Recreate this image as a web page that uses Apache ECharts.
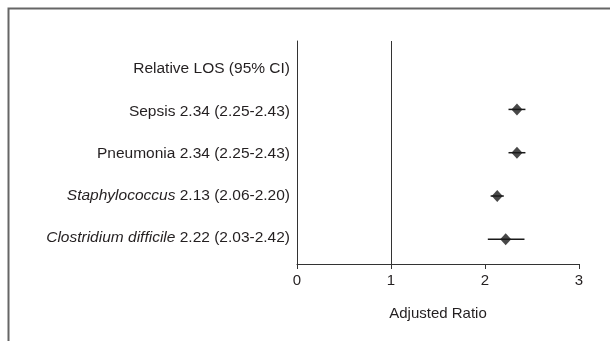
<!DOCTYPE html>
<html>
<head>
<meta charset="utf-8">
<script src="https://cdn.jsdelivr.net/npm/echarts@6/dist/echarts.min.js"></script>
<style>
html,body{margin:0;padding:0;background:#fff;}
#chart{width:610px;height:341px;}
</style>
</head>
<body>
<div id="chart"></div>
<script>
var headerLabel = 'Relative LOS (95% CI)';
var outcomes = ['Sepsis', 'Pneumonia', 'Staphylococcus', 'Clostridium difficile'];
var italicName = [false, false, true, true];
var estimates = [2.34, 2.34, 2.13, 2.22];
var lowerCI = [2.25, 2.25, 2.06, 2.03];
var upperCI = [2.43, 2.43, 2.20, 2.42];
var rowPos = [3, 2, 1, 0];
var xTicks = [0, 1, 2, 3];

function fmt(v){ return v.toFixed(2); }
var labelCats = [headerLabel].concat(outcomes.map(function(n, i){
  return n + ' ' + fmt(estimates[i]) + ' (' + fmt(lowerCI[i]) + '-' + fmt(upperCI[i]) + ')';
}));

var pointData = outcomes.map(function(n, i){ return [estimates[i], rowPos[i]]; });
var barData = outcomes.map(function(n, i){ return [lowerCI[i], upperCI[i], rowPos[i]]; });

var FONT = "'Liberation Sans', Arial, sans-serif";
var TXT = '#231f20';
var LBL = 15.5;

var chart = echarts.init(document.getElementById('chart'));
chart.setOption({
  animation: false,
  backgroundColor: '#fff',
  graphic: [
    { type: 'polyline', shape: { points: [[8.5, 341], [8.5, 8.5], [610, 8.5]] },
      style: { stroke: '#666', lineWidth: 2, fill: null } }
  ],
  grid: [
    { left: 297, right: 31, top: 41, bottom: 77 },
    { left: 297, right: 31, top: 48, bottom: 82 }
  ],
  xAxis: [
    { gridIndex: 0, type: 'value', min: xTicks[0], max: xTicks[xTicks.length-1], interval: 1,
      name: 'Adjusted Ratio', nameLocation: 'middle', nameGap: 42,
      nameTextStyle: { fontFamily: FONT, fontSize: 15, color: TXT },
      axisLine: { show: true, onZero: false, lineStyle: { color: '#333', width: 1 } },
      axisTick: { show: true, length: 5, lineStyle: { color: '#333' } },
      axisLabel: { margin: 9, fontFamily: FONT, fontSize: 15, color: TXT },
      splitLine: { show: false } },
    { gridIndex: 1, type: 'value', min: 0, max: 3, show: false }
  ],
  yAxis: [
    { gridIndex: 0, type: 'value', min: -0.57, max: 4.58,
      axisLine: { show: true, onZero: false, lineStyle: { color: '#333', width: 1 } },
      axisTick: { show: false }, axisLabel: { show: false }, splitLine: { show: false } },
    { gridIndex: 1, type: 'category', inverse: true, data: labelCats,
      axisLine: { show: false }, axisTick: { show: false }, splitLine: { show: false },
      axisLabel: {
        margin: 7, fontFamily: FONT, fontSize: LBL, color: TXT,
        formatter: function(val, idx){
          if (idx === 0) return '{n|' + val + '}';
          var i = idx - 1;
          var rest = ' ' + fmt(estimates[i]) + ' (' + fmt(lowerCI[i]) + '-' + fmt(upperCI[i]) + ')';
          if (italicName[i]) return '{it|' + outcomes[i] + '}{n|' + rest + '}';
          return '{n|' + outcomes[i] + rest + '}';
        },
        rich: {
          n: { fontFamily: FONT, fontSize: LBL, color: TXT },
          it: { fontFamily: FONT, fontSize: LBL, color: TXT, fontStyle: 'italic' }
        }
      } }
  ],
  series: [
    { type: 'custom', xAxisIndex: 0, yAxisIndex: 0, data: barData, silent: true,
      renderItem: function(params, api){
        var a = api.coord([api.value(0), api.value(2)]);
        var b = api.coord([api.value(1), api.value(2)]);
        return { type: 'line', shape: { x1: a[0], y1: a[1], x2: b[0], y2: b[1] },
          style: { stroke: '#1a1a1a', lineWidth: 1.5 } };
      } },
    { type: 'scatter', xAxisIndex: 0, yAxisIndex: 0, data: pointData, symbol: 'diamond',
      symbolSize: [11, 12], itemStyle: { color: '#1a1a1a' }, z: 5,
      markLine: { silent: true, symbol: 'none', label: { show: false },
        lineStyle: { color: '#333', width: 1, type: 'solid' },
        data: [{ xAxis: 1 }] } }
  ]
});
</script>
</body>
</html>
